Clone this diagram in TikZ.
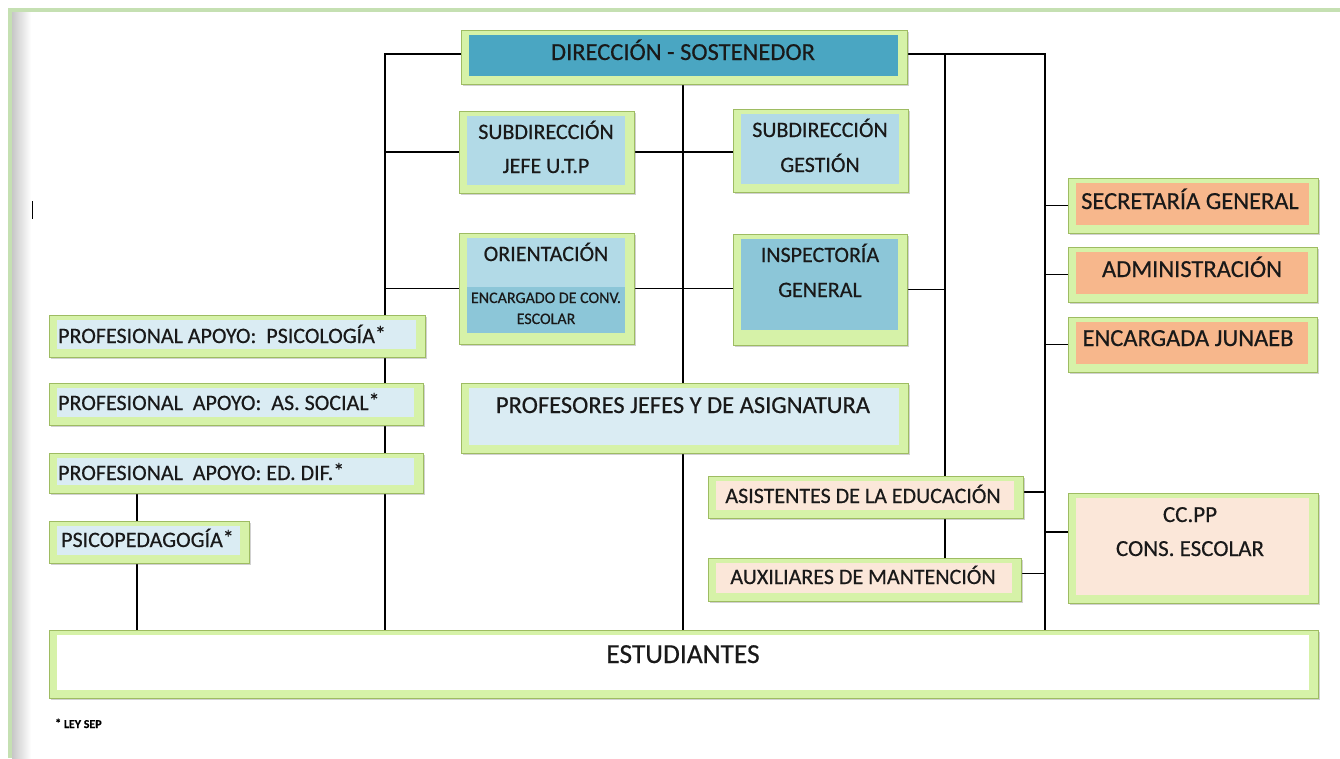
\documentclass[tikz,border=0pt]{standalone}
\usepackage{fontspec}
\setmainfont{Carlito}[FakeBold=0.45]
\usetikzlibrary{shadows}
\definecolor{framefill}{RGB}{214,242,168}
\definecolor{frameline}{RGB}{158,188,98}
\definecolor{cteal}{RGB}{74,166,194}
\definecolor{clblue}{RGB}{178,218,231}
\definecolor{cmblue}{RGB}{140,198,216}
\definecolor{cpale}{RGB}{218,236,243}
\definecolor{corange}{RGB}{247,183,140}
\definecolor{cpeach}{RGB}{251,231,217}
\definecolor{borderg}{RGB}{197,224,178}
\def\boxin{white}
\def\binset{8pt}
\newcommand\hiast{\raisebox{1.5pt}{*}}
\pgfdeclarelayer{bg}
\pgfsetlayers{bg,main}
\tikzset{
 boxin/.store in=\boxin,
 binset/.store in=\binset,
 obox/.style={draw=frameline, line width=0.8pt, fill=framefill, inner sep=0pt, outer sep=0pt,
   drop shadow={shadow xshift=1.5pt, shadow yshift=-2pt, opacity=0.3, fill=black!60},
   path picture={\fill[\boxin] ([xshift=7.5pt,yshift=-5pt]path picture bounding box.north west) rectangle ([xshift=-9pt,yshift=\binset]path picture bounding box.south east);}},
 conn/.style={draw=black, line width=1.6pt},
 lab/.style={font=\fontsize{24.5}{28}\selectfont, inner sep=0pt, anchor=base, text=black!90},
 labs/.style={font=\fontsize{22}{26}\selectfont, inner sep=0pt, anchor=base, text=black!90},
 labm/.style={font=\fontsize{23}{26}\selectfont, inner sep=0pt, anchor=base, text=black!90},
 labt/.style={font=\fontsize{16}{18}\selectfont, inner sep=0pt, anchor=base, text=black!90},
 labe/.style={font=\fontsize{27.5}{30}\selectfont, inner sep=0pt, anchor=base, text=black!90},
 labl/.style={labs, anchor=base west},
}
\newcommand\mkbox[6][]{\node[obox,#1, minimum width={(#5-#3)*1pt}, minimum height={(#6-#4)*1pt}] (#2) at ({(#3+#5)/2},{(#4+#6)/2}) {};}
\begin{document}
\begin{tikzpicture}[x=1pt,y=-1pt]
\useasboundingbox (0,0) rectangle (1340,758);
% page border
\shade[left color=black!22, right color=white] (12,12) rectangle (31,758);
\draw[borderg, line width=4pt] (10,758) -- (10,10) -- (1340,10);
\draw[black, line width=1pt] (32,201) -- (32,219);

% boxes
\mkbox[boxin=cteal]{dir}{461}{30}{907}{84}
\mkbox[boxin=clblue]{utp}{459}{111}{634}{193}
\mkbox[boxin=clblue]{gest}{733}{109}{908}{192}
\mkbox[boxin=clblue, binset=11pt]{orient}{459}{233}{634}{344}
\fill[cmblue] (466.5,287) rectangle (625,333);
\mkbox[boxin=cmblue, binset=15pt]{insp}{733}{234}{907}{345}
\mkbox[boxin=cpale]{prof}{461}{383}{908}{453}
\mkbox[boxin=cpale]{psic}{49}{315}{425}{357}
\mkbox[boxin=cpale]{soc}{49}{383}{423}{425}
\mkbox[boxin=cpale]{dif}{49}{453}{423}{493}
\mkbox[boxin=cpale]{psp}{49}{521}{249}{563}
\mkbox[boxin=cpeach]{asis}{708}{476}{1023}{518}
\mkbox[boxin=cpeach]{aux}{708}{558}{1021}{601}
\mkbox[boxin=corange]{sec}{1068}{178}{1318}{233}
\mkbox[boxin=corange]{adm}{1068}{247}{1317}{302}
\mkbox[boxin=corange]{jun}{1068}{317}{1317}{372}
\mkbox[boxin=cpeach]{ccpp}{1068}{493}{1318}{603}
\mkbox[boxin=white]{est}{49}{630}{1318}{698}

% connectors
\coordinate (lx) at (385,0);
\coordinate (mx) at (945,0);
\coordinate (rx) at (1045,0);
\coordinate (px) at (137,0);
\begin{pgfonlayer}{bg}
\draw[conn] ([yshift=3pt]dir.west) -| (lx |- est.north);
\draw[conn] (utp.west) -- (utp.west -| lx);
\draw[conn] (orient.west) -- (orient.west -| lx);
\draw[conn] ([xshift=-1pt]dir.south) -- ([xshift=-1pt]dir.south |- est.north);
\draw[conn] (utp.east) -- (gest.west |- utp.east);
\draw[conn] (orient.east) -- (insp.west |- orient.east);
\draw[conn] ([yshift=3pt]dir.east) -| (rx |- est.north);
\draw[conn] ([yshift=3pt]dir.east -| mx) -- (mx |- aux.north);
\draw[conn] (insp.east) -- (insp.east -| mx);
\draw[conn] (sec.west) -- (sec.west -| rx);
\draw[conn] (adm.west) -- (adm.west -| rx);
\draw[conn] (jun.west) -- (jun.west -| rx);
\draw[conn] ([yshift=16pt]ccpp.west) -- ([yshift=16pt]ccpp.west -| rx);
\draw[conn] ([yshift=5pt]asis.east) -- ([yshift=5pt]asis.east -| rx);
\draw[conn] ([yshift=6pt]aux.east) -- ([yshift=6pt]aux.east -| rx);
\draw[conn] (dif.south -| px) -- (psp.north -| px);
\draw[conn] (psp.south -| px) -- (est.north -| px);
\end{pgfonlayer}

% texts
\node[lab] (tdir) at (683,60) {DIRECCIÓN - SOSTENEDOR};
\node[labs] (tutp1) at (546,139) {SUBDIRECCIÓN};
\node[labs] (tutp2) at (546,173) {JEFE U.T.P};
\node[labs] (tg1) at (820,137) {SUBDIRECCIÓN};
\node[labs] (tg2) at (820,172) {GESTIÓN};
\node[labs] (to1) at (546,261) {ORIENTACIÓN};
\node[labt] (to2) at (546,303) {ENCARGADO DE CONV.};
\node[labt] (to3) at (546,324) {ESCOLAR};
\node[labs] (ti1) at (820,262) {INSPECTORÍA};
\node[labs] (ti2) at (820,297) {GENERAL};
\node[lab] (tprof) at (683,413) {PROFESORES JEFES Y DE ASIGNATURA};
\node[labl] (tps) at (58,343) {PROFESIONAL APOYO:\ \ PSICOLOGÍA\hiast};
\node[labl] (tsoc) at (58,410) {PROFESIONAL\ \ APOYO:\ \ AS. SOCIAL\hiast};
\node[labl] (tdif) at (58,480) {PROFESIONAL\ \ APOYO: ED. DIF.\hiast};
\node[labl] (tpsp) at (61,547) {PSICOPEDAGOGÍA\hiast};
\node[labs] (tasis) at (863,503) {ASISTENTES DE LA EDUCACIÓN};
\node[labs] (taux) at (863,584) {AUXILIARES DE MANTENCIÓN};
\node[lab] (tsec) at (1190,209) {SECRETARÍA GENERAL};
\node[lab] (tadm) at (1192,277) {ADMINISTRACIÓN};
\node[lab] (tjun) at (1188,346) {ENCARGADA JUNAEB};
\node[labm] (tcc1) at (1190,522) {CC.PP};
\node[labm] (tcc2) at (1190,556) {CONS. ESCOLAR};
\node[labe] (test) at (683,663) {ESTUDIANTES};
\node[font=\bfseries\fontsize{12}{14}\selectfont, anchor=base west, inner sep=0pt] (note) at (55,728) {\raisebox{0.7pt}{*} LEY SEP};
\end{tikzpicture}
\end{document}
